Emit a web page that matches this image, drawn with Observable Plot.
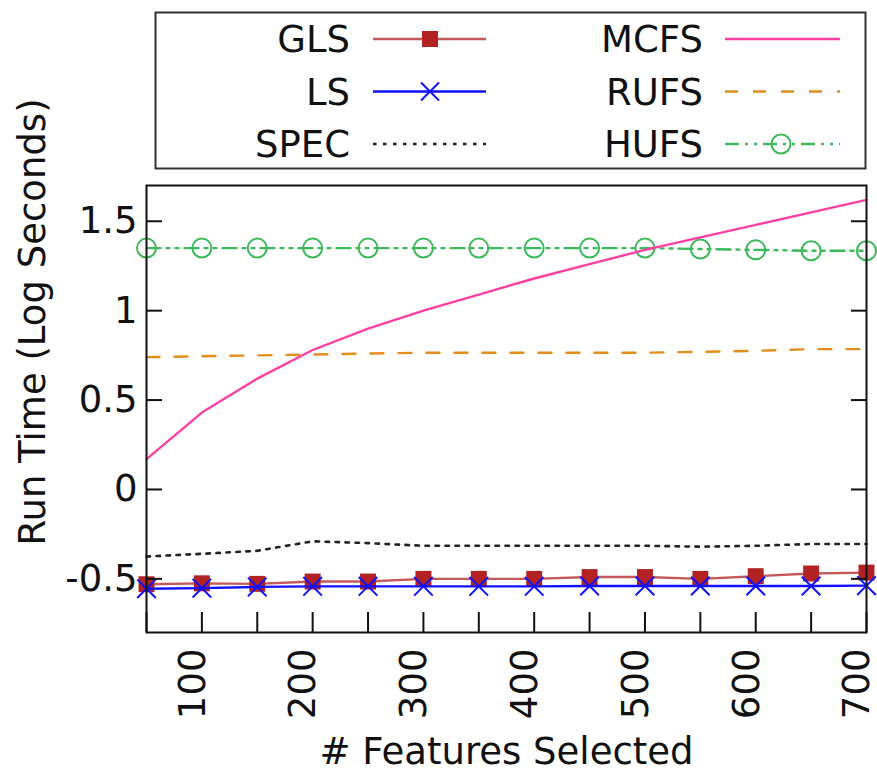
<!DOCTYPE html>
<html><head><meta charset="utf-8">
<script src="https://cdn.jsdelivr.net/npm/d3@7"></script>
<script src="https://cdn.jsdelivr.net/npm/@observablehq/plot@0.6"></script>
<style>
body{margin:0;background:#fff;}
#wrap{position:relative;width:877px;height:774px;font-family:"DejaVu Sans",Verdana,sans-serif;}
#legend{position:absolute;left:0;top:0;}
</style></head><body><div id="wrap"></div>
<script>
const features = [50,100,150,200,250,300,350,400,450,500,550,600,650,700];
const GLS  = [-0.53,-0.525,-0.528,-0.515,-0.515,-0.5,-0.5,-0.5,-0.49,-0.49,-0.5,-0.485,-0.47,-0.465];
const LS   = [-0.555,-0.552,-0.545,-0.542,-0.542,-0.542,-0.542,-0.542,-0.54,-0.54,-0.54,-0.54,-0.54,-0.538];
const SPEC = [-0.375,-0.36,-0.343,-0.29,-0.3,-0.315,-0.315,-0.315,-0.315,-0.315,-0.32,-0.315,-0.305,-0.305];
const MCFS = [0.17,0.43,0.62,0.78,0.9,1.0,1.09,1.18,1.26,1.34,1.41,1.48,1.55,1.62];
const RUFS = [0.74,0.745,0.75,0.755,0.76,0.765,0.765,0.765,0.765,0.765,0.77,0.775,0.785,0.785];
const HUFS = [1.35,1.35,1.35,1.35,1.35,1.35,1.35,1.35,1.35,1.35,1.345,1.34,1.335,1.335];

const seriesNames = ["GLS","LS","SPEC","MCFS","RUFS","HUFS"];
const seriesValues = [GLS, LS, SPEC, MCFS, RUFS, HUFS];
const seriesColors = ["#b22222","#1010ff","#222222","#ff3fa4","#e38d1c","#3cb95a"];
const seriesDash = [null, null, "3.5,6.5", null, "13,15", "14,6,3,6,3,6"];
const seriesSymbol = ["square","times",null,null,null,"circle"];

const xMinorTicks = [50,100,150,200,250,300,350,400,450,500,550,600,650,700];
const xMajorTicks = [100,200,300,400,500,600,700];
const yTicks = [-0.5,0,0.5,1,1.5];
const xLabel = "# Features Selected";
const yLabel = "Run Time (Log Seconds)";

const rowsOf = i => features.map((f, j) => ({series: seriesNames[i], x: f, y: seriesValues[i][j]}));

const drawOrder = [5, 4, 0, 1, 2, 3];
const lineMarks = [];
for (const i of drawOrder) {
  const rows = rowsOf(i);
  lineMarks.push(Plot.line(rows, {x: "x", y: "y", stroke: seriesColors[i], strokeWidth: i === 2 ? 2.6 : 2.4,
    strokeOpacity: i === 0 ? 0.75 : 1,
    strokeDasharray: seriesDash[i] || undefined}));
  if (seriesSymbol[i] === "square") lineMarks.push(Plot.dot(rows, {x: "x", y: "y", symbol: "square", r: 9, fill: seriesColors[i]}));
  if (seriesSymbol[i] === "times") lineMarks.push(Plot.dot(rows, {x: "x", y: "y", symbol: "times", r: 8.5, stroke: seriesColors[i], strokeWidth: 2}));
  if (seriesSymbol[i] === "circle") lineMarks.push(Plot.dot(rows, {x: "x", y: "y", symbol: "circle", r: 9.5, stroke: seriesColors[i], strokeWidth: 2, fill: "none"}));
}

const chart = Plot.plot({
  width: 877, height: 774,
  marginTop: 185, marginBottom: 142, marginLeft: 146, marginRight: 11,
  style: {fontFamily: "'DejaVu Sans', Verdana, sans-serif", fontSize: "37px", background: "white", color: "#111"},
  x: {domain: [50, 700]},
  y: {domain: [-0.8, 1.7]},
  marks: [
    ...lineMarks,
    Plot.axisY(yTicks, {anchor: "left", tickSize: 0, tickPadding: 9, fontSize: 37, label: null, tickFormat: d => String(d)}),
    Plot.axisY(yTicks, {anchor: "left", tickSize: -16, fill: "none", strokeWidth: 2, label: null}),
    Plot.axisY(yTicks, {anchor: "right", tickSize: -16, fill: "none", strokeWidth: 2, label: null}),
    Plot.axisX(xMinorTicks, {anchor: "bottom", tickSize: -20, fill: "none", strokeWidth: 2, label: null}),
    Plot.axisX(xMajorTicks, {anchor: "bottom", tickSize: 0, tickPadding: 16, tickRotate: -90, dx: -9, fontSize: 37, label: null, tickFormat: d => String(d)}),
    Plot.frame({stroke: "#111", strokeWidth: 2}),
    Plot.text([yLabel], {frameAnchor: "left", textAnchor: "middle", lineAnchor: "middle", rotate: -90, dx: -113, dy: -87, fontSize: 37, fill: "#111"}),
    Plot.text([xLabel], {frameAnchor: "bottom", textAnchor: "middle", lineAnchor: "middle", dy: 120, fontSize: 37, fill: "#111"})
  ]
});
const wrap = document.getElementById("wrap");
wrap.appendChild(chart);

// Legend (above the plot frame)
const leg = d3.select(wrap).append("svg").attr("id", "legend")
  .attr("width", 877).attr("height", 176)
  .style("font-family", "'DejaVu Sans', Verdana, sans-serif").style("font-size", "37px");
leg.append("rect").attr("x", 155.5).attr("y", 12.5).attr("width", 710).attr("height", 156)
  .attr("fill", "white").attr("stroke", "#333").attr("stroke-width", 2);
const rowY = [39, 91.5, 144];
const cols = [{tx: 350, x1: 373, x2: 486, mx: 430}, {tx: 703, x1: 725, x2: 840, mx: 781}];
seriesNames.forEach((name, i) => {
  const c = cols[Math.floor(i / 3)], y = rowY[i % 3];
  leg.append("text").attr("x", c.tx).attr("y", y).attr("dy", "0.36em").attr("text-anchor", "end")
    .attr("fill", "#111").text(name);
  leg.append("line").attr("x1", c.x1).attr("x2", c.x2).attr("y1", y).attr("y2", y)
    .attr("stroke", seriesColors[i]).attr("stroke-width", i === 2 ? 2.6 : 2.4)
    .attr("stroke-opacity", i === 0 ? 0.75 : 1)
    .attr("stroke-dasharray", seriesDash[i]);
  if (seriesSymbol[i] === "square")
    leg.append("rect").attr("x", c.mx - 8).attr("y", y - 8).attr("width", 16).attr("height", 16).attr("fill", seriesColors[i]);
  if (seriesSymbol[i] === "times")
    leg.append("path").attr("d", `M${c.mx-9},${y-9}L${c.mx+9},${y+9}M${c.mx-9},${y+9}L${c.mx+9},${y-9}`)
      .attr("stroke", seriesColors[i]).attr("stroke-width", 2);
  if (seriesSymbol[i] === "circle")
    leg.append("circle").attr("cx", c.mx).attr("cy", y).attr("r", 9.5).attr("fill", "none")
      .attr("stroke", seriesColors[i]).attr("stroke-width", 2);
});
</script>
</body></html>
